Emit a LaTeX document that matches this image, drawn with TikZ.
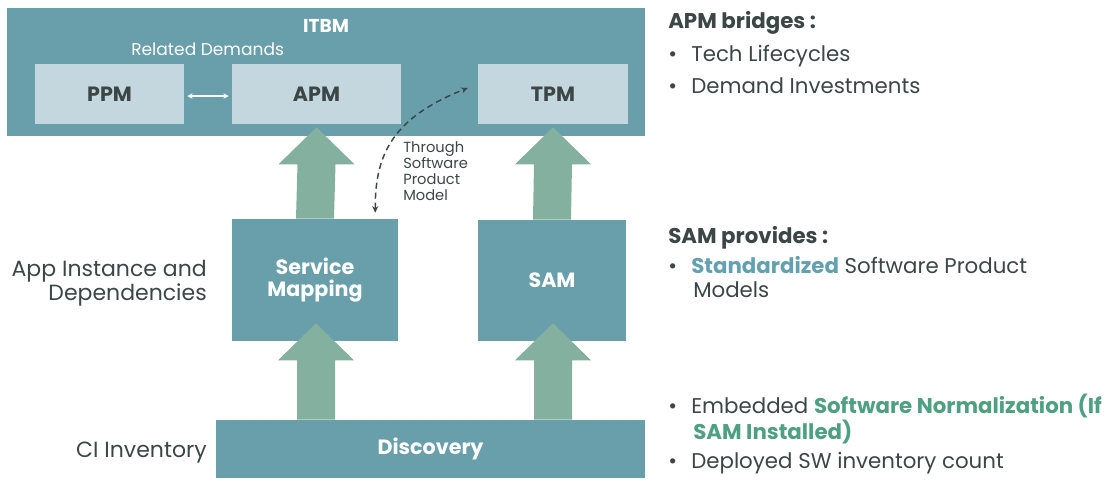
\documentclass[tikz,border=0pt]{standalone}
\usepackage{fontspec}
\setmainfont{Poppins}
\usetikzlibrary{arrows.meta,calc}
\definecolor{boxteal}{HTML}{689FAA}
\definecolor{boxlight}{HTML}{C5D7DE}
\definecolor{arrowgreen}{HTML}{84B09F}
\definecolor{darktxt}{HTML}{3C4646}
\definecolor{stdblue}{HTML}{62A2B0}
\definecolor{normgreen}{HTML}{4EA082}
\newcommand\fatarrow[3]{% from, to, extra offset of tip
  \fill[arrowgreen] ($(#1)+(-19,0)$) -- ($(#2)+(-19,37+#3)$) -- ($(#2)+(-38,37+#3)$) -- ($(#2)+(0,#3)$)
    -- ($(#2)+(38,37+#3)$) -- ($(#2)+(19,37+#3)$) -- ($(#1)+(19,0)$) -- cycle;}
\begin{document}
\begin{tikzpicture}[x=0.75pt,y=-0.75pt,
  bigbox/.style={fill=boxteal, draw=none, inner sep=0pt, text=white, font=\bfseries\fontsize{15.5}{18}\selectfont, align=center},
  subbox/.style={fill=boxlight, draw=none, inner sep=0pt, text=darktxt, font=\bfseries\fontsize{15.5}{18}\selectfont},
  rtext/.style={anchor=base west, inner sep=0pt, text=darktxt, font=\fontsize{16}{19}\selectfont},
  ltext/.style={anchor=base east, inner sep=0pt, text=darktxt, font=\fontsize{16.5}{19}\selectfont}]
\useasboundingbox (0,0) rectangle (1107,480);
% ITBM container
\node[bigbox, minimum width=638*0.75pt, minimum height=128*0.75pt] (itbm) at (326,72) {};
\node[text=white, font=\bfseries\fontsize{14}{16}\selectfont, inner sep=0pt] (itbmlabel) at (326,26) {ITBM};
\node[anchor=base west, inner sep=0pt, text=white, font=\fontsize{12.8}{15}\selectfont] (reldem) at (131,55) {Related Demands};
\node[subbox, minimum width=149*0.75pt, minimum height=60*0.75pt] (ppm) at (109.5,94) {PPM};
\node[subbox, minimum width=169*0.75pt, minimum height=60*0.75pt] (apm) at (316.5,94) {APM};
\node[subbox, minimum width=150*0.75pt, minimum height=60*0.75pt] (tpm) at (553,94) {TPM};
% middle and bottom boxes
\node[bigbox, minimum width=166*0.75pt, minimum height=122*0.75pt] (sm) at (315,280) {Service\\[-1pt]Mapping};
\node[bigbox, minimum width=148*0.75pt, minimum height=121*0.75pt] (sam) at (552,280.5) {SAM};
\node[bigbox, minimum width=429*0.75pt, minimum height=58*0.75pt] (disc) at (430.5,449) {Discovery};
% fat arrows
\fatarrow{sm.north}{apm.south}{3}
\fatarrow{sam.north}{tpm.south}{3}
\coordinate (smtip) at ($(sm.south)+(1,-18)$);
\coordinate (samtip) at ($(sam.south)+(1,-18)$);
\fatarrow{disc.north -| smtip}{smtip}{0}
\fatarrow{disc.north -| samtip}{samtip}{0}
% PPM <-> APM
\draw[white, line width=1pt, {Stealth[length=4pt,width=4pt]}-{Stealth[length=4pt,width=4pt]}]
  ($(ppm.east)+(3,2)$) -- ($(apm.west)+(-3,2)$);
% dashed curve
\coordinate (dtop) at ($(tpm.west)+(-10,-6)$);
\coordinate (dbot) at ($(sm.north east)+(-23,-6)$);
\draw[darktxt, line width=1.1pt, dash pattern=on 4.5pt off 3pt,
  {Stealth[length=5pt,width=4.5pt]}-{Stealth[length=5pt,width=4.5pt]}]
  (dbot) .. controls (375,155) and (392,118) .. (dtop);
\node[anchor=north west, inner sep=0pt, align=left, text=darktxt, font=\fontsize{11}{12}\selectfont] (through) at (403,141)
  {Through\\Software\\Product\\Model};
% left labels
\node[ltext] (appinst) at (207,276) {App Instance and};
\node[ltext] (deps) at (207,300) {Dependencies};
\node[ltext] (ciinv) at (207,457) {CI Inventory};
% right text
\node[rtext, font=\bfseries\fontsize{16}{19}\selectfont] (apmb) at (668,28) {APM bridges :};
\node[rtext] (b1) at (668,61) {\makebox[17.25pt][l]{•}Tech Lifecycles};
\node[rtext] (b2) at (668,93) {\makebox[17.25pt][l]{•}Demand Investments};
\node[rtext, font=\bfseries\fontsize{16}{19}\selectfont] (samp) at (668,243) {SAM provides :};
\node[rtext] (b3) at (668,273) {\makebox[17.25pt][l]{•}{\bfseries\color{stdblue}Standardized} Software Product};
\node[rtext] (b3b) at (693,297) {Models};
\node[rtext] (b4) at (668,413) {\makebox[17.25pt][l]{•}Embedded {\bfseries\color{normgreen}Software Normalization (If}};
\node[rtext, font=\bfseries\fontsize{16}{19}\selectfont, text=normgreen] (b4b) at (693,439) {SAM Installed)};
\node[rtext] (b5) at (668,468) {\makebox[17.25pt][l]{•}Deployed SW inventory count};
\end{tikzpicture}
\end{document}
